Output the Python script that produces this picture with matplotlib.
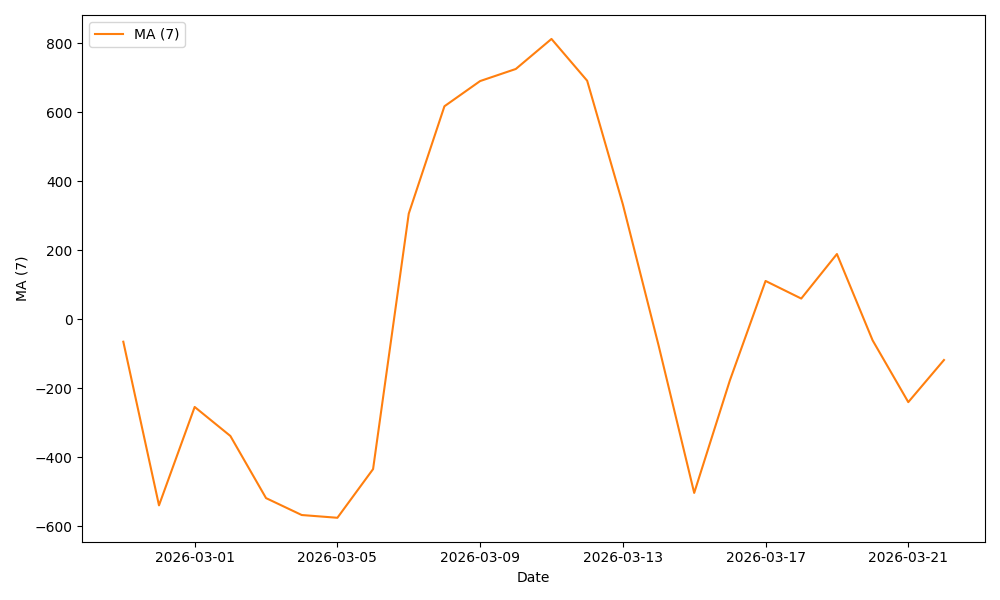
import matplotlib as mpl
mpl.use('Agg')
import matplotlib.pyplot as plt
import matplotlib.dates as mdates
import pandas as pd

# 7-day moving average, one value per day
dates = pd.date_range('2026-02-27', '2026-03-22', freq='D')
ma7 = [-65, -539, -254, -338, -518, -567, -575, -434,
       306, 617, 690, 725, 812, 691, 333, -75,
       -503, -177, 111, 60, 189, -61, -240, -118]

fig, ax = plt.subplots(figsize=(10, 6), dpi=100)
ax.plot(dates, ma7, color='C1', label='MA (7)')

ax.xaxis.set_major_locator(mdates.DayLocator(bymonthday=[1, 5, 9, 13, 17, 21]))
ax.xaxis.set_major_formatter(mdates.DateFormatter('%Y-%m-%d'))
ax.set_xlabel('Date')
ax.set_ylabel('MA (7)')
ax.legend(loc='upper left')

fig.tight_layout()
fig.savefig('out.png')
